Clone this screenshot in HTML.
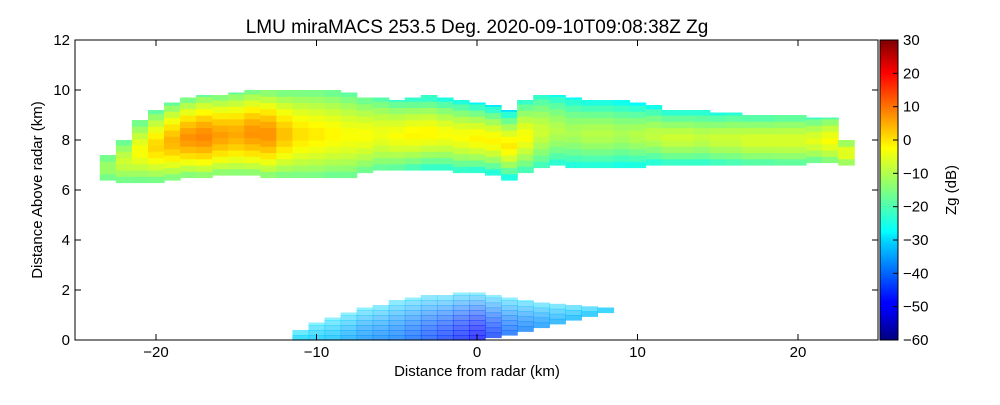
<!DOCTYPE html>
<html><head><meta charset="utf-8"><style>
body{margin:0;background:#fff;font-family:"Liberation Sans",sans-serif;}
svg text{font-family:"Liberation Sans",sans-serif;}
</style></head><body>
<svg id="chart" width="1000" height="400">
<rect width="1000" height="400" fill="#fff"/>
<g id="cells"></g>
<rect x="75" y="40" width="803" height="300" fill="none" stroke="#000" stroke-width="1"/>
<g id="axes"></g>
<text x="477" y="33" font-size="19" text-anchor="middle">LMU miraMACS 253.5 Deg. 2020-09-10T09:08:38Z  Zg</text>
<text x="477" y="376" font-size="15" text-anchor="middle">Distance from radar (km)</text>
<text transform="translate(42,190) rotate(-90)" font-size="15" text-anchor="middle">Distance Above radar  (km)</text>
<defs><linearGradient id="jet" x1="0" y1="1" x2="0" y2="0">
<stop offset="0" stop-color="#00007f"/><stop offset="0.11" stop-color="#0000ff"/><stop offset="0.125" stop-color="#0000ff"/>
<stop offset="0.34" stop-color="#00dfff"/><stop offset="0.36" stop-color="#00ffff"/>
<stop offset="0.5" stop-color="#7fff7f"/><stop offset="0.64" stop-color="#ffff00"/>
<stop offset="0.89" stop-color="#ff0000"/><stop offset="1" stop-color="#7f0000"/></linearGradient></defs>
<rect x="880" y="40" width="18" height="300" fill="url(#jet)" stroke="#000" stroke-width="1"/>
<g id="cbar"></g>
<text transform="translate(956,190) rotate(-90)" font-size="15" text-anchor="middle">Zg (dB)</text>
</svg>
<script>
const cloudX   =[-23,-22,-21,-20,-19,-18,-17,-16,-15,-14,-13,-12,-11,-10,-9,-8,-7,-6,-5,-4,-3,-2,-1,0,1,2,3,4,5,6,7,8,9,10,11,12,13,14,15,16,17,18,19,20,21,22,23];
const cloudBot =[6.4,6.3,6.3,6.3,6.4,6.5,6.5,6.6,6.6,6.6,6.5,6.5,6.5,6.5,6.5,6.5,6.7,6.8,6.8,6.8,6.8,6.8,6.7,6.7,6.6,6.4,6.7,6.9,7.0,6.9,6.9,6.9,6.9,6.9,7.0,7.0,7.0,7.0,7.0,7.0,7.0,7.0,7.0,7.0,7.1,7.1,7.0];
const cloudTop =[7.4,8.0,8.8,9.2,9.5,9.7,9.8,9.8,9.9,10.0,10.0,10.0,10.0,10.0,10.0,9.9,9.7,9.7,9.6,9.7,9.8,9.7,9.6,9.5,9.4,9.2,9.6,9.8,9.8,9.7,9.6,9.6,9.6,9.5,9.4,9.2,9.2,9.2,9.1,9.1,9.0,9.0,9.0,9.0,8.9,8.9,8.0];
const cloudCore=[-12,-8,-4,0,3,6,7,5,4,6,6,2,-1,-2,-3,-4,-4,-5,-4,-3,-3,-4,-4,-3,-3,-2,-4,-8,-10,-11,-10,-10,-11,-10,-9,-8,-8,-9,-8,-8,-7,-7,-7,-7,-6,-4,-5];
const cloudEdge=[-18,-18,-18,-18,-17,-17,-16,-16,-16,-16,-16,-17,-17,-17,-18,-18,-18,-19,-20,-22,-24,-24,-24,-25,-26,-27,-22,-22,-24,-25,-25,-25,-26,-26,-25,-24,-24,-24,-23,-22,-21,-21,-20,-20,-19,-17,-16];
const clutX   =[-11,-10,-9,-8,-7,-6,-5,-4,-3,-2,-1,0,1,2,3,4,5,6,7,8];
const clutBot =[0,0,0,0,0,0,0,0,0,0,0,0,0.1,0.2,0.35,0.5,0.65,0.8,0.95,1.1];
const clutTop =[0.4,0.7,0.9,1.1,1.3,1.4,1.6,1.7,1.8,1.8,1.9,1.9,1.8,1.7,1.6,1.5,1.45,1.4,1.35,1.3];
const clutCore=[-30,-31,-32,-34,-36,-37,-38,-40,-42,-44,-46,-48,-44,-40,-38,-36,-34,-33,-32,-31];
const xTicks=[-20,-10,0,10,20];
const yTicks=[0,2,4,6,8,10,12];
const cTicks=[30,20,10,0,-10,-20,-30,-40,-50,-60];
const X=k=>477+k*16.05, Y=h=>340-h*25, C=v=>340-(v+60)/90*300;
function jet(v){let t=Math.max(0,Math.min(1,(v+60)/90));
 const f=(a)=>Math.max(0,Math.min(1,1.5-Math.abs(4*t-a)));
 return `rgb(${Math.round(255*f(3))},${Math.round(255*f(2))},${Math.round(255*f(1))})`;}
const g=document.getElementById('cells');let html='';
function cell(x0,h0,w,hh,v,name,op){html+=`<rect x="${X(x0).toFixed(1)}" y="${Y(h0+hh).toFixed(1)}" width="${(w*16.05+0.6).toFixed(1)}" height="${(hh*25+0.6).toFixed(1)}" fill="${jet(v)}" fill-opacity="${op}"/>`;}
for(let i=0;i<cloudX.length;i++){const b=cloudBot[i],t=cloudTop[i],m=(b+t)/2,half=(t-b)/2;
 for(let h=b;h<t-0.01;h+=0.25){const d=Math.abs(h+0.125-m)/half;cell(cloudX[i]-0.5,h,1,Math.min(0.25,t-h),cloudCore[i]+(cloudEdge[i]-cloudCore[i])*Math.pow(d,1.5),'cloud-cell',1);}}
for(let i=0;i<clutX.length;i++){const b=clutBot[i],t=clutTop[i];
 for(let h=b;h<t-0.01;h+=0.2){const d=(h-b)/(t-b);cell(clutX[i]-0.5,h,1,Math.min(0.2,t-h),clutCore[i]+(-28-clutCore[i])*d*d,'clutter-cell',0.75-0.35*d);}}
g.innerHTML=html;
const a=document.getElementById('axes');let s='';
xTicks.forEach(k=>{s+=`<line x1="${X(k)}" y1="340" x2="${X(k)}" y2="334" stroke="#000"/><line x1="${X(k)}" y1="40" x2="${X(k)}" y2="46" stroke="#000"/><text x="${X(k)}" y="357" font-size="15" text-anchor="middle">${k<0?'\u2212'+(-k):k}</text>`;});
yTicks.forEach(h=>{s+=`<line x1="75" y1="${Y(h)}" x2="81" y2="${Y(h)}" stroke="#000"/><line x1="878" y1="${Y(h)}" x2="872" y2="${Y(h)}" stroke="#000"/><text x="70" y="${Y(h)+5}" font-size="15" text-anchor="end">${h}</text>`;});
a.innerHTML=s;
const cb=document.getElementById('cbar');let c='';
cTicks.forEach(v=>{c+=`<line x1="893" y1="${C(v)}" x2="898" y2="${C(v)}" stroke="#000"/><text x="903" y="${C(v)+5}" font-size="15">${v<0?'\u2212'+(-v):v}</text>`;});
cb.innerHTML=c;
</script>
</body></html>
